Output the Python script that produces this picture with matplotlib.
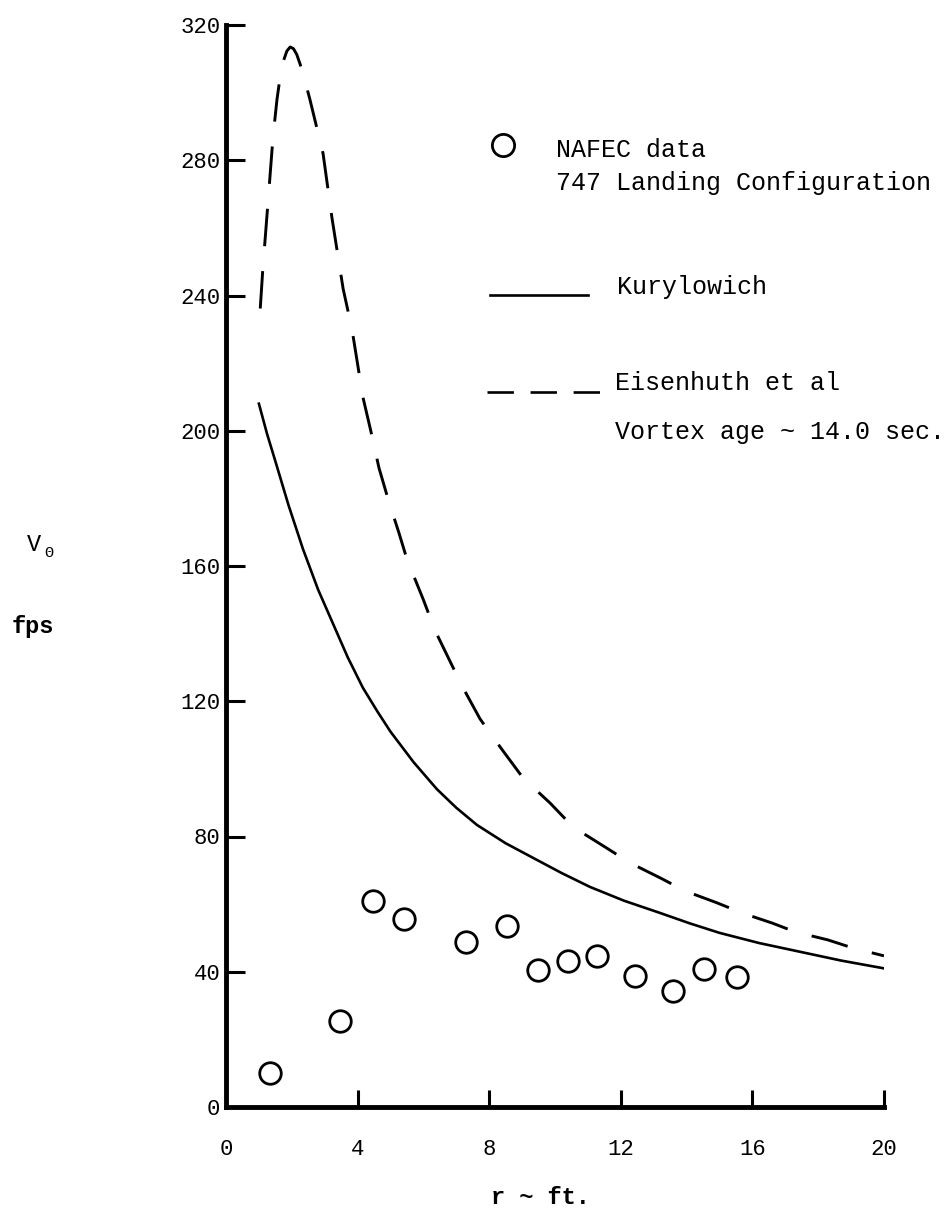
import matplotlib
matplotlib.use("Agg")
import matplotlib.pyplot as plt

# NAFEC measured tangential velocity, 747 landing configuration
nafec_r = [1.34, 3.47, 4.47, 5.41, 7.31, 8.53, 9.47, 10.4, 11.29, 12.44, 13.6, 14.53, 15.53]
nafec_v = [10.2, 25.3, 61.0, 55.6, 48.9, 53.6, 40.4, 43.2, 44.7, 38.7, 34.3, 40.9, 38.4]

# Kurylowich prediction
kury_r = [1.0, 1.25, 1.5, 1.9, 2.34, 2.8, 3.25, 3.7, 4.16, 4.6, 5.0, 5.7, 6.41, 7.0,
          7.63, 8.5, 9.33, 10.2, 11.06, 12.1, 13.19, 14.1, 15.0, 16.2, 17.45, 18.7, 20.0]
kury_v = [208, 199, 191, 178, 165, 153, 143, 133, 124, 117, 111, 102, 94, 88.5,
          83.4, 78, 73.7, 69.2, 65.1, 61, 57.4, 54.3, 51.5, 48.5, 45.9, 43.3, 41.0]

# Eisenhuth et al, vortex age 14 sec
eis_r = [1.0, 1.12, 1.28, 1.43, 1.55, 1.65, 1.75, 1.85, 1.95, 2.05, 2.15, 2.25, 2.4,
         2.55, 2.95, 3.22, 3.56, 3.83, 4.16, 4.4, 4.65, 4.95, 5.25, 5.5, 6.0, 6.35,
         6.75, 7.17, 7.72, 8.33, 9.03, 9.85, 10.55, 11.52, 12.28, 13.25, 13.95, 14.92,
         15.68, 16.6, 17.3, 18.3, 19.06, 20.0]
eis_v = [230, 248, 268, 287, 298, 305, 309.5, 312.3, 313.5, 313, 311.3, 308.5, 303.5,
         298, 282, 263, 242, 230, 210, 200, 189, 179, 170, 162, 150, 141,
         133, 124.6, 114.8, 106.5, 97.3, 89.9, 82.8, 76.9, 72.2, 67.5, 63.9, 60.4,
         57.4, 54.4, 51.8, 49.4, 47.0, 44.7]

xticks = [0, 4, 8, 12, 16, 20]
yticks = [0, 40, 80, 120, 160, 200, 240, 280, 320]

plt.rcParams['font.family'] = ['Liberation Mono', 'DejaVu Sans Mono']
plt.rcParams['lines.scale_dashes'] = False

W, H = 949, 1210
fig = plt.figure(figsize=(W / 100, H / 100), dpi=100)
# axes box in pixels: x 226..884, y 25..1107 (from top)
ax = fig.add_axes([226 / W, (H - 1107) / H, (884 - 226) / W, (1107 - 25) / H])

ax.plot(kury_r, kury_v, color='black', lw=1.9)
# offset chosen so a dash sits over the peak
ax.plot(eis_r, eis_v, color='black', lw=2.1, ls=(30, (27, 18)))
ax.plot(nafec_r, nafec_v, 'o', ms=15.5, mfc='none', mec='black', mew=2.0)

ax.set_xlim(0, 20)
ax.set_ylim(0, 320)
ax.set_xticks(xticks)
ax.set_yticks(yticks)
ax.set_xticklabels([str(t) for t in xticks])
ax.set_yticklabels([str(t) for t in yticks])
for s in ['top', 'right']:
    ax.spines[s].set_visible(False)
for s in ['left', 'bottom']:
    ax.spines[s].set_linewidth(3.5)
ax.tick_params(axis='y', direction='in', length=14, width=2.2, pad=4, labelsize=16)
ax.tick_params(axis='x', direction='in', length=12, width=2.2, pad=23, labelsize=16)


def px(x, y):
    # pixel position -> data coords
    return (x - 226) / 32.9, (1107 - y) / 3.38


# legend drawn by hand inside the plot area
ax.plot(*px(503, 145), 'o', ms=16, mfc='none', mec='black', mew=2.0, clip_on=False)
ax.text(*px(556, 150), 'NAFEC data', fontsize=18, va='center')
ax.text(*px(556, 183), '747 Landing Configuration', fontsize=18, va='center')

kx0, ky = px(490, 295)
kx1, _ = px(588, 295)
ax.plot([kx0, kx1], [ky, ky], color='black', lw=1.9)
ax.text(*px(617, 287), 'Kurylowich', fontsize=18, va='center')

ex0, ey = px(487, 392)
ex1, _ = px(600, 392)
ax.plot([ex0, ex1], [ey, ey], color='black', lw=1.9, dashes=(19, 12))
ax.text(*px(615, 383), 'Eisenhuth et al', fontsize=18, va='center')
ax.text(*px(615, 432), 'Vortex age ~ 14.0 sec.', fontsize=18, va='center')

# axis titles
fig.text(34 / W, 1 - 545 / H, 'V', fontsize=17, ha='center', va='center')
fig.text(49 / W, 1 - 553 / H, 'Θ', fontsize=11, ha='center', va='center')
fig.text(33 / W, 1 - 627 / H, 'fps', fontsize=17, weight='bold', ha='center', va='center')
fig.text(540 / W, 1 - 1198 / H, 'r ~ ft.', fontsize=17, weight='bold', ha='center', va='center')

fig.savefig('out.png', dpi=100)
